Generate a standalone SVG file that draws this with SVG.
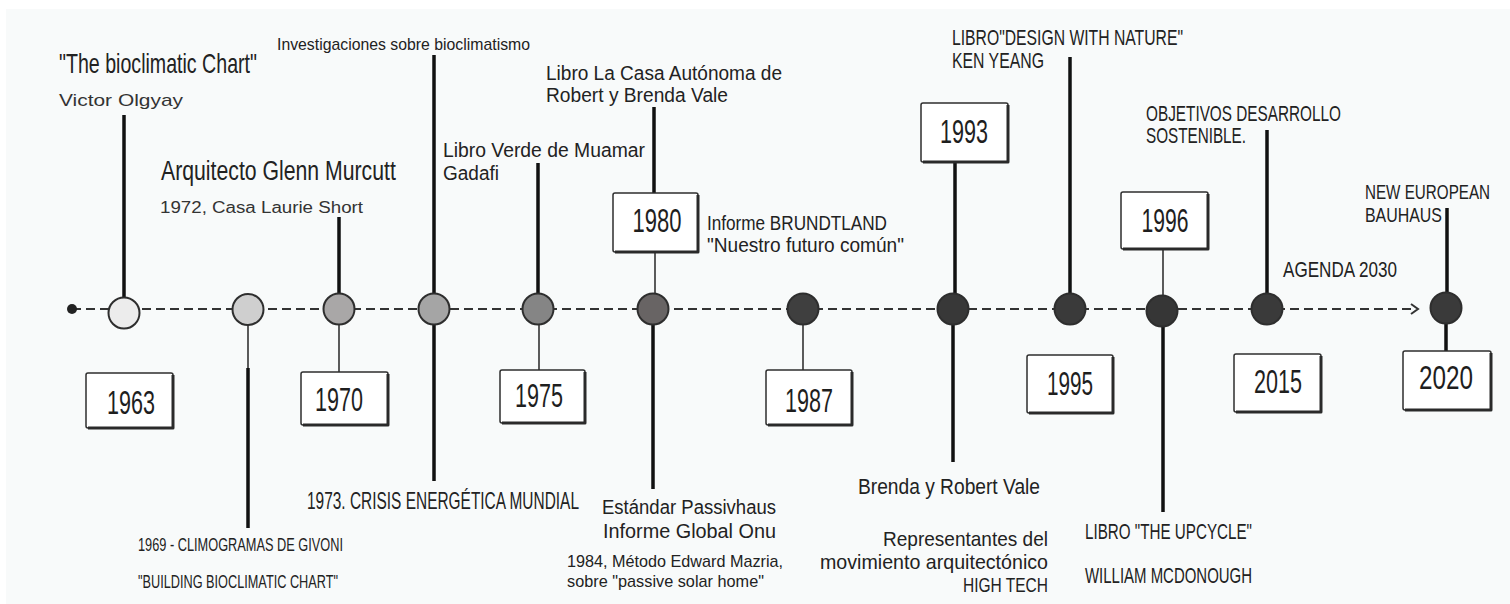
<svg xmlns="http://www.w3.org/2000/svg" width="1510" height="604" viewBox="0 0 1510 604">
<style>
.h{font-family:"Liberation Sans","DejaVu Sans",sans-serif;fill:#222}
.m{font-family:"Liberation Sans","DejaVu Sans",sans-serif;fill:#333}
.yr{font-family:"Liberation Sans","DejaVu Sans",sans-serif;fill:#1e1e1e;font-size:33px;text-anchor:middle}
.thick{stroke:#111;stroke-width:3.5;fill:none}
.thin{stroke:#333;stroke-width:1.6;fill:none}
.dot{stroke:#2e2e2e;stroke-width:2}
.box{fill:#fff;stroke:#2e2e2e;stroke-width:1.5}
.sh{fill:none;stroke:#2a2a2a;stroke-width:3;stroke-linejoin:round}
</style>
<rect x="0" y="0" width="1510" height="604" fill="#ffffff"/>
<rect x="6" y="9" width="1504" height="595" fill="#f8fafa"/>

<g id="connectors">
<line x1="72" y1="309" x2="1416" y2="309" stroke="#333" stroke-width="2" stroke-dasharray="9 5"/>
<path d="M1411,304 L1418,309 L1411,314" fill="none" stroke="#333" stroke-width="2"/>
<circle cx="72" cy="309" r="5" fill="#222"/>
</g>

<g id="n1963">
<line class="thick" x1="124" y1="115" x2="124" y2="298"/>
<circle class="dot" cx="124" cy="313" r="15.5" fill="#ececec"/>
<rect class="box" x="86" y="373" width="87" height="55" rx="2"/>
<path class="sh" d="M173,375 L173,428 L88,428"/>
<text class="yr" x="131" y="414" textLength="48" lengthAdjust="spacingAndGlyphs">1963</text>
<text class="h" x="59" y="73" font-size="28" textLength="198" lengthAdjust="spacingAndGlyphs">"The bioclimatic Chart"</text>
<text class="m" x="59" y="106" font-size="17" textLength="124" lengthAdjust="spacingAndGlyphs">Victor Olgyay</text>
</g>

<g id="n1969">
<line class="thin" x1="248" y1="325" x2="248" y2="528"/>
<line class="thick" x1="248" y1="368" x2="248" y2="528"/>
<circle class="dot" cx="248" cy="309.5" r="15.5" fill="#cfcfcf"/>
<text class="h" x="138" y="551" font-size="18" textLength="205" lengthAdjust="spacingAndGlyphs">1969 - CLIMOGRAMAS DE GIVONI</text>
<text class="h" x="138" y="588" font-size="18" textLength="200" lengthAdjust="spacingAndGlyphs">"BUILDING BIOCLIMATIC CHART"</text>
</g>

<g id="n1970">
<line class="thick" x1="339" y1="217" x2="339" y2="294"/>
<line class="thin" x1="339" y1="325" x2="339" y2="372"/>
<circle class="dot" cx="339" cy="309" r="15.5" fill="#a9a7a7"/>
<rect class="box" x="301" y="372" width="87" height="53" rx="2"/>
<path class="sh" d="M388,374 L388,425 L303,425"/>
<text class="yr" x="339" y="411" textLength="48" lengthAdjust="spacingAndGlyphs">1970</text>
<text class="h" transform="translate(161,180) scale(0.76,1)" x="0" y="0" font-size="28" textLength="309" lengthAdjust="spacingAndGlyphs">Arquitecto Glenn Murcutt</text>
<text class="m" x="160" y="213" font-size="16" textLength="203" lengthAdjust="spacingAndGlyphs">1972, Casa Laurie Short</text>
</g>

<g id="n1973">
<line class="thick" x1="434" y1="55" x2="434" y2="481"/>
<circle class="dot" cx="434" cy="309" r="15.5" fill="#a5a5a5"/>
<text class="h" x="277" y="50" font-size="17" textLength="253" lengthAdjust="spacingAndGlyphs">Investigaciones sobre bioclimatismo</text>
<text class="h" transform="translate(307,509) scale(0.634,1)" x="0" y="0" font-size="24" textLength="429" lengthAdjust="spacingAndGlyphs">1973. CRISIS ENERGÉTICA MUNDIAL</text>
</g>

<g id="n1975">
<line class="thick" x1="538" y1="163" x2="538" y2="293"/>
<line class="thin" x1="539" y1="325" x2="539" y2="370"/>
<circle class="dot" cx="538" cy="309" r="15.5" fill="#858585"/>
<rect class="box" x="500" y="370" width="85" height="53" rx="2"/>
<path class="sh" d="M585,372 L585,423 L502,423"/>
<text class="yr" x="539" y="407" textLength="48" lengthAdjust="spacingAndGlyphs">1975</text>
<text class="h" x="443" y="157" font-size="20" textLength="202" lengthAdjust="spacingAndGlyphs">Libro Verde de Muamar</text>
<text class="h" x="443" y="180" font-size="20" textLength="56" lengthAdjust="spacingAndGlyphs">Gadafi</text>
</g>

<g id="n1980">
<line class="thick" x1="654" y1="107" x2="654" y2="193"/>
<line class="thin" x1="655" y1="252" x2="655" y2="293"/>
<line class="thick" x1="653" y1="325" x2="653" y2="489"/>
<circle class="dot" cx="653" cy="309" r="15.5" fill="#686464"/>
<rect class="box" x="613" y="193" width="85" height="59" rx="2"/>
<path class="sh" d="M698,195 L698,252 L615,252"/>
<text class="yr" x="657" y="232" textLength="49" lengthAdjust="spacingAndGlyphs">1980</text>
<text class="h" x="546" y="80" font-size="20" textLength="236" lengthAdjust="spacingAndGlyphs">Libro La Casa Autónoma de</text>
<text class="h" x="546" y="102" font-size="20" textLength="182" lengthAdjust="spacingAndGlyphs">Robert y Brenda Vale</text>
<text class="h" x="602" y="514" font-size="20" textLength="174" lengthAdjust="spacingAndGlyphs">Estándar Passivhaus</text>
<text class="h" x="603" y="538" font-size="20" textLength="173" lengthAdjust="spacingAndGlyphs">Informe Global Onu</text>
<text class="h" x="567" y="567" font-size="17" textLength="216" lengthAdjust="spacingAndGlyphs">1984, Método Edward Mazria,</text>
<text class="h" x="567" y="587" font-size="17" textLength="197" lengthAdjust="spacingAndGlyphs">sobre "passive solar home"</text>
</g>

<g id="n1987">
<line class="thin" x1="803" y1="325" x2="803" y2="370"/>
<circle class="dot" cx="803" cy="309" r="15.5" fill="#3f3f3f"/>
<rect class="box" x="766" y="370" width="86" height="55" rx="2"/>
<path class="sh" d="M852,372 L852,425 L768,425"/>
<text class="yr" x="809" y="412" textLength="48" lengthAdjust="spacingAndGlyphs">1987</text>
<text class="h" x="707" y="230" font-size="20" textLength="180" lengthAdjust="spacingAndGlyphs">Informe BRUNDTLAND</text>
<text class="h" x="707" y="252" font-size="20" textLength="197" lengthAdjust="spacingAndGlyphs">"Nuestro futuro común"</text>
</g>

<g id="n1993">
<line class="thick" x1="955" y1="162" x2="955" y2="293"/>
<line class="thick" x1="953" y1="325" x2="953" y2="462"/>
<circle class="dot" cx="953" cy="309" r="15.5" fill="#383838"/>
<rect class="box" x="921" y="103" width="87" height="59" rx="2"/>
<path class="sh" d="M1008,105 L1008,162 L923,162"/>
<text class="yr" x="964" y="143" textLength="48" lengthAdjust="spacingAndGlyphs">1993</text>
<text class="h" x="858" y="494" font-size="22" textLength="182" lengthAdjust="spacingAndGlyphs">Brenda y Robert Vale</text>
<text class="h" x="883" y="546" font-size="21" textLength="165" lengthAdjust="spacingAndGlyphs">Representantes del</text>
<text class="h" x="820" y="569" font-size="21" textLength="228" lengthAdjust="spacingAndGlyphs">movimiento arquitectónico</text>
<text class="h" x="963" y="592" font-size="21" textLength="85" lengthAdjust="spacingAndGlyphs">HIGH TECH</text>
</g>

<g id="n1995">
<line class="thick" x1="1070" y1="57" x2="1070" y2="293"/>
<circle class="dot" cx="1070" cy="309" r="15.5" fill="#3a3a3a"/>
<rect class="box" x="1027" y="355" width="86" height="58" rx="2"/>
<path class="sh" d="M1113,357 L1113,413 L1029,413"/>
<text class="yr" x="1070" y="395" textLength="46" lengthAdjust="spacingAndGlyphs">1995</text>
<text class="h" x="952" y="45" font-size="22" textLength="231" lengthAdjust="spacingAndGlyphs">LIBRO"DESIGN WITH NATURE"</text>
<text class="h" x="952" y="68" font-size="22" textLength="92" lengthAdjust="spacingAndGlyphs">KEN YEANG</text>
</g>

<g id="n1996">
<line class="thin" x1="1163" y1="249" x2="1163" y2="295"/>
<line class="thick" x1="1163" y1="327" x2="1163" y2="512"/>
<circle class="dot" cx="1162" cy="311" r="15.5" fill="#363636"/>
<rect class="box" x="1121" y="192" width="87" height="57" rx="2"/>
<path class="sh" d="M1208,194 L1208,249 L1123,249"/>
<text class="yr" x="1165" y="232" textLength="47" lengthAdjust="spacingAndGlyphs">1996</text>
<text class="h" x="1085" y="539" font-size="22" textLength="167" lengthAdjust="spacingAndGlyphs">LIBRO "THE UPCYCLE"</text>
<text class="h" x="1085" y="583" font-size="22" textLength="167" lengthAdjust="spacingAndGlyphs">WILLIAM MCDONOUGH</text>
</g>

<g id="n2015">
<line class="thick" x1="1267" y1="130" x2="1267" y2="293"/>
<circle class="dot" cx="1267" cy="309" r="15.5" fill="#3a3a3a"/>
<rect class="box" x="1234" y="354" width="87" height="58" rx="2"/>
<path class="sh" d="M1321,356 L1321,412 L1236,412"/>
<text class="yr" x="1278" y="393" textLength="48" lengthAdjust="spacingAndGlyphs">2015</text>
<text class="h" x="1146" y="121" font-size="22" textLength="195" lengthAdjust="spacingAndGlyphs">OBJETIVOS DESARROLLO</text>
<text class="h" x="1146" y="143" font-size="22" textLength="100" lengthAdjust="spacingAndGlyphs">SOSTENIBLE.</text>
<text class="h" x="1283" y="277" font-size="22" textLength="114" lengthAdjust="spacingAndGlyphs">AGENDA 2030</text>
</g>

<g id="n2020">
<line class="thick" x1="1447" y1="208" x2="1447" y2="292"/>
<line class="thick" x1="1446" y1="324" x2="1446" y2="351"/>
<circle class="dot" cx="1446" cy="308" r="15.5" fill="#3a3a3a"/>
<rect class="box" x="1403" y="351" width="88" height="59" rx="2"/>
<path class="sh" d="M1491,353 L1491,410 L1405,410"/>
<text class="yr" x="1446" y="389" textLength="54" lengthAdjust="spacingAndGlyphs">2020</text>
<text class="h" transform="translate(1365,199) scale(0.727,1)" x="0" y="0" font-size="21" textLength="172" lengthAdjust="spacingAndGlyphs">NEW EUROPEAN</text>
<text class="h" x="1365" y="222" font-size="21" textLength="77" lengthAdjust="spacingAndGlyphs">BAUHAUS</text>
</g>
</svg>
